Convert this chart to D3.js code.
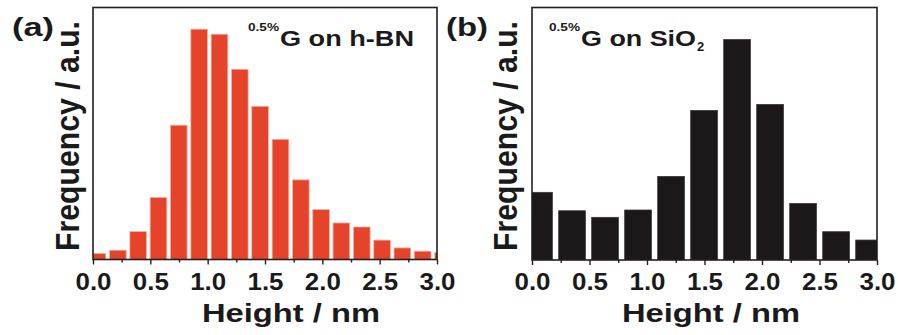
<!DOCTYPE html>
<html>
<head>
<meta charset="utf-8">
<script src="https://cdn.jsdelivr.net/npm/d3@7"></script>
<style>
  body { margin: 0; background: #fff; }
  svg text { font-family: "Liberation Sans", Arial, sans-serif; font-weight: bold; fill: #1a1a1a; }
</style>
</head>
<body>
<svg id="chart" width="898" height="335"></svg>
<script>
// bin centres (nm) and relative frequencies
var centersA = [0.039, 0.217, 0.394, 0.571, 0.748, 0.926, 1.103, 1.280, 1.457,
                1.635, 1.812, 1.989, 2.166, 2.344, 2.521, 2.698, 2.875, 3.053];
var freqA = [2.4, 3.7, 11.1, 24.6, 53.3, 91.4, 89.4, 75.5, 60.8,
             47.7, 31.6, 19.8, 14.5, 12.9, 7.7, 4.6, 3.3, 2.8];
var barWidthA = 0.1455;

var centersB = [0.061, 0.348, 0.635, 0.922, 1.209, 1.496, 1.783, 2.070, 2.357, 2.644, 2.931];
var freqB = [26.8, 19.5, 16.9, 19.8, 33.1, 59.2, 87.3, 61.6, 22.4, 11.2, 7.9];
var barWidthB = 0.232;

var majorTicks = [0.0, 0.5, 1.0, 1.5, 2.0, 2.5, 3.0];
var minorTicks = [0.25, 0.75, 1.25, 1.75, 2.25, 2.75];

var svg = d3.select('#chart');

function drawPanel(opt) {
    var x = d3.scaleLinear().domain([0, 3]).range([opt.left, opt.right]);
    var y = d3.scaleLinear().domain([0, 100]).range([opt.bottom, opt.top]);

    var g = svg.append('g');

    g.append('clipPath')
        .attr('id', opt.id + '-clip')
        .append('rect')
        .attr('x', opt.left)
        .attr('y', opt.top)
        .attr('width', opt.right - opt.left)
        .attr('height', opt.bottom - opt.top);

    g.append('g')
        .attr('clip-path', 'url(#' + opt.id + '-clip)')
        .selectAll('rect')
        .data(opt.values)
        .enter().append('rect')
        .attr('x', function(d, i) { return x(opt.centers[i] - opt.barWidth / 2); })
        .attr('width', function(d) { return x(opt.barWidth) - x(0); })
        .attr('y', function(d) { return y(d); })
        .attr('height', function(d) { return y(0) - y(d); })
        .attr('fill', opt.color)
        .attr('stroke', opt.edge)
        .attr('stroke-width', 0.8);

    // minor ticks first, then labelled major ticks
    g.append('g')
        .attr('transform', 'translate(0,' + opt.bottom + ')')
        .call(d3.axisBottom(x).tickValues(minorTicks).tickSize(3).tickFormat(''))
        .call(function(a) { a.select('.domain').remove(); });

    var ax = g.append('g')
        .attr('transform', 'translate(0,' + opt.bottom + ')')
        .call(d3.axisBottom(x).tickValues(majorTicks).tickSize(5).tickPadding(8)
              .tickFormat(d3.format('.1f')));
    ax.select('.domain').remove();
    ax.selectAll('line').attr('stroke', '#231f20').attr('stroke-width', 1.4);
    ax.selectAll('text')
        .attr('font-size', 23)
        .attr('fill', '#1a1a1a')
        .attr('y', 30)
        .attr('dy', null)
        .attr('textLength', 36)
        .attr('lengthAdjust', 'spacingAndGlyphs');
    g.selectAll('.tick line').attr('stroke', '#231f20').attr('stroke-width', 1.4);

    g.append('rect')
        .attr('x', opt.left)
        .attr('y', opt.top)
        .attr('width', opt.right - opt.left)
        .attr('height', opt.bottom - opt.top)
        .attr('fill', 'none')
        .attr('stroke', '#231f20')
        .attr('stroke-width', 1.6);

    g.append('text')
        .attr('x', opt.xTitleX)
        .attr('y', 322)
        .attr('font-size', 25.7)
        .attr('textLength', 178)
        .attr('lengthAdjust', 'spacingAndGlyphs')
        .text('Height / nm');

    g.append('text')
        .attr('transform', 'translate(' + opt.yTitleX + ',251) rotate(-90)')
        .attr('font-size', 32.5)
        .attr('textLength', 230)
        .attr('lengthAdjust', 'spacingAndGlyphs')
        .text('Frequency / a.u.');

    g.append('text')
        .attr('x', opt.tagX)
        .attr('y', 36)
        .attr('font-size', 25)
        .attr('textLength', 42)
        .attr('lengthAdjust', 'spacingAndGlyphs')
        .text(opt.tag);

    g.append('text')
        .attr('x', opt.noteX)
        .attr('y', 30.7)
        .attr('font-size', 11.7)
        .attr('textLength', 31)
        .attr('lengthAdjust', 'spacingAndGlyphs')
        .text('0.5%');

    g.append('text')
        .attr('x', opt.noteX + 32)
        .attr('y', 46)
        .attr('font-size', 21.4)
        .attr('textLength', opt.noteLen)
        .attr('lengthAdjust', 'spacingAndGlyphs')
        .text(opt.note);

    if (opt.sub) {
        g.append('text')
            .attr('x', opt.noteX + 32 + opt.noteLen + 1)
            .attr('y', 51)
            .attr('font-size', 13)
            .text(opt.sub);
    }
}

drawPanel({
    id: 'a', left: 93, right: 437, top: 7.5, bottom: 259.5,
    centers: centersA, values: freqA, barWidth: barWidthA,
    color: '#e5442b', edge: '#f3b3a4',
    xTitleX: 202, yTitleX: 79, tag: '(a)', tagX: 12,
    noteX: 248, note: 'G on h-BN', noteLen: 134
});

drawPanel({
    id: 'b', left: 532, right: 877, top: 7.5, bottom: 260,
    centers: centersB, values: freqB, barWidth: barWidthB,
    color: '#1c1718', edge: '#3a3536',
    xTitleX: 622, yTitleX: 517, tag: '(b)', tagX: 446,
    noteX: 549, note: 'G on SiO', noteLen: 115, sub: '2'
});
</script>
</body>
</html>
